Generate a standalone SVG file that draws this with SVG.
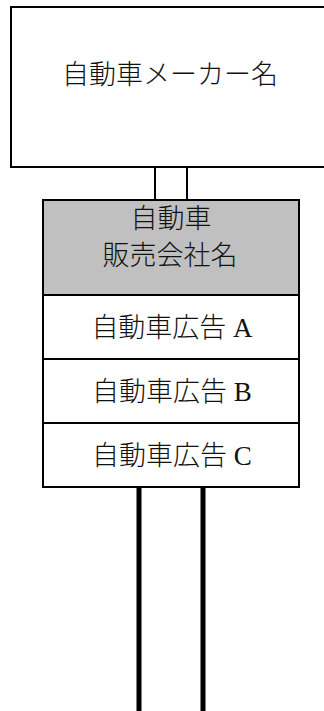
<svg xmlns="http://www.w3.org/2000/svg" width="324" height="711" viewBox="0 0 324 711">
<style>
.box{fill:#ffffff;stroke:#000000;stroke-width:2}
.gray{fill:#c0c0c0;stroke:#000000;stroke-width:2}
.pole{stroke:#000000;stroke-width:5;fill:none}
.t{font-family:"Liberation Serif","Noto Sans CJK JP",serif;font-size:27px;font-weight:300;fill:#111111;text-anchor:middle}
</style>
<rect width="324" height="711" fill="#ffffff"/>
<g id="connectors">
<line class="pole" x1="139" y1="487" x2="139" y2="711"/>
<line class="pole" x1="203" y1="487" x2="203" y2="711"/>
</g>
<g id="maker">
<rect class="box" x="11" y="7" width="320" height="160"/>
<text class="t" x="170" y="84">自動車メーカー名</text>
</g>
<g id="link">
<rect class="box" x="155" y="167" width="32" height="33"/>
</g>
<g id="dealer">
<rect class="gray" x="43" y="200" width="256" height="95"/>
<text class="t" x="171" y="228">自動車</text>
<text class="t" x="170" y="265">販売会社名</text>
</g>
<g id="adA">
<rect class="box" x="43" y="295" width="256" height="64"/>
<text class="t" x="172" y="337">自動車広告 A</text>
</g>
<g id="adB">
<rect class="box" x="43" y="359" width="256" height="64"/>
<text class="t" x="172" y="401">自動車広告 B</text>
</g>
<g id="adC">
<rect class="box" x="43" y="423" width="256" height="64"/>
<text class="t" x="172" y="465">自動車広告 C</text>
</g>
</svg>
